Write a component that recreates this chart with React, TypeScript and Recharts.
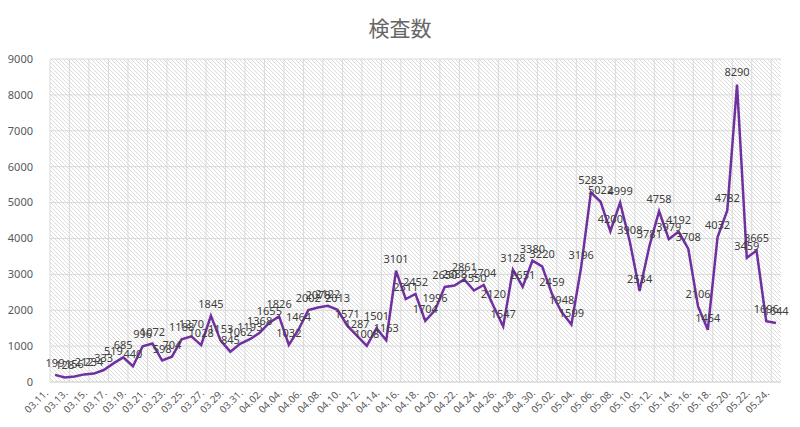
import { CartesianGrid, LabelList, Line, LineChart, XAxis, YAxis } from 'recharts'

const dates = [
  '03.11.', '03.12.', '03.13.', '03.14.', '03.15.', '03.16.', '03.17.', '03.18.', '03.19.', '03.20.',
  '03.21.', '03.22.', '03.23.', '03.24.', '03.25.', '03.26.', '03.27.', '03.28.', '03.29.', '03.30.',
  '03.31.', '04.01.', '04.02.', '04.03.', '04.04.', '04.05.', '04.06.', '04.07.', '04.08.', '04.09.',
  '04.10.', '04.11.', '04.12.', '04.13.', '04.14.', '04.15.', '04.16.', '04.17.', '04.18.', '04.19.',
  '04.20.', '04.21.', '04.22.', '04.23.', '04.24.', '04.25.', '04.26.', '04.27.', '04.28.', '04.29.',
  '04.30.', '05.01.', '05.02.', '05.03.', '05.04.', '05.05.', '05.06.', '05.07.', '05.08.', '05.09.',
  '05.10.', '05.11.', '05.12.', '05.13.', '05.14.', '05.15.', '05.16.', '05.17.', '05.18.', '05.19.',
  '05.20.', '05.21.', '05.22.', '05.23.', '05.24.',
]

const tests = [
  199, 128, 156, 212, 234, 333, 519, 685, 440, 996,
  1072, 598, 704, 1188, 1270, 1028, 1845, 1153, 845, 1062,
  1193, 1368, 1655, 1826, 1032, 1464, 2002, 2078, 2122, 2013,
  1571, 1287, 1008, 1501, 1163, 3101, 2311, 2452, 1704, 1996,
  2650, 2688, 2861, 2550, 2704, 2120, 1547, 3128, 2651, 3380,
  3220, 2459, 1948, 1599, 3196, 5283, 5022, 4200, 4999, 3908,
  2534, 3781, 4758, 3979, 4192, 3708, 2106, 1454, 4032, 4782,
  8290, 3459, 3665, 1696, 1644,
]

const yTicks = [0, 1000, 2000, 3000, 4000, 5000, 6000, 7000, 8000, 9000]

const data = dates.map((date, i) => ({ date, value: tests[i] }))

const FONT = '"Noto Sans", "Noto Sans CJK JP", sans-serif'

function DateTick({ x, y, payload }: any) {
  const ax = x - 9
  const ay = y + 9
  return (
    <text
      x={ax}
      y={ay}
      transform={`rotate(-45 ${ax} ${ay})`}
      textAnchor="end"
      dominantBaseline="central"
      fontSize={10}
      fill="#595959"
      fontFamily={FONT}
    >
      {payload.value}
    </text>
  )
}

// gridlines sit on category boundaries, every second one
const boundaryLines = ({ offset }: any) => {
  const band = offset.width / dates.length
  const out: number[] = []
  for (let k = 0; k <= dates.length; k += 2) out.push(offset.left + k * band)
  return out
}

export default function App() {
  return (
    <div style={{ position: 'absolute', left: 0, top: 0, width: 800, height: 428, background: '#fff' }}>
      <div
        style={{
          position: 'absolute',
          top: 12,
          left: 0,
          width: 800,
          textAlign: 'center',
          fontFamily: '"Noto Sans CJK JP", sans-serif',
          fontSize: 21,
          color: '#666666',
          lineHeight: '30px',
        }}
      >
        検査数
      </div>
      <LineChart width={800} height={428} data={data} margin={{ top: 59, right: 19, bottom: 0, left: 0 }}>
        <defs>
          <pattern id="hatch" patternUnits="userSpaceOnUse" width={4} height={4}>
            <rect width={4} height={4} fill="#ffffff" />
            <path d="M-1,-1 L5,5 M-1,3 L1,5 M3,-1 L5,1" stroke="#dcdcdc" strokeWidth={1} />
          </pattern>
        </defs>
        <CartesianGrid
          fill="url(#hatch)"
          stroke="#d9d9d9"
          verticalCoordinatesGenerator={boundaryLines}
        />
        <XAxis
          dataKey="date"
          interval={1}
          tick={<DateTick />}
          tickLine={false}
          tickSize={0}
          tickMargin={0}
          axisLine={{ stroke: '#d9d9d9' }}
          height={46}
          padding={{ left: 5, right: 5 }}
        />
        <YAxis
          domain={[0, 9000]}
          ticks={yTicks}
          axisLine={false}
          tickLine={false}
          tickSize={0}
          tickMargin={17}
          width={50}
          tick={{ fontSize: 11, fill: '#595959', fontFamily: FONT }}
        />
        <Line
          type="linear"
          dataKey="value"
          stroke="#7030a0"
          strokeWidth={2.5}
          dot={false}
          isAnimationActive={false}
        >
          <LabelList dataKey="value" position="top" offset={8} fontSize={11} fill="#404040" fontFamily={FONT} />
        </Line>
      </LineChart>
      <div
        style={{
          position: 'absolute',
          left: 0,
          top: 0,
          width: 800,
          height: 428,
          boxSizing: 'border-box',
          borderBottom: '1px solid #d9d9d9',
          pointerEvents: 'none',
        }}
      />
    </div>
  )
}
